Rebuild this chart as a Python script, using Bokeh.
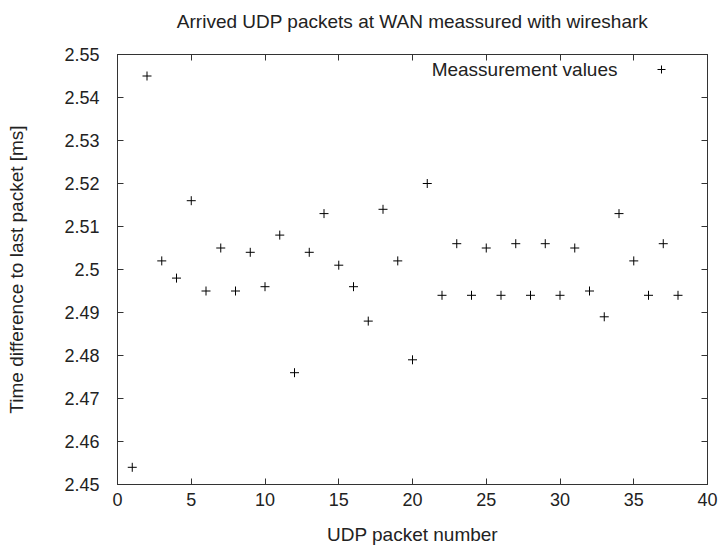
from bokeh.plotting import figure
from bokeh.models import (Range1d, LinearAxis, FixedTicker, CustomJSTickFormatter,
                          Label, Legend, LegendItem, ColumnDataSource)
from bokeh.embed import file_html
from bokeh.resources import INLINE

# ---- data ----
packet_number = list(range(1, 39))
time_diff_ms = [2.454, 2.545, 2.502, 2.498, 2.516, 2.495, 2.505, 2.495, 2.504, 2.496,
                2.508, 2.476, 2.504, 2.513, 2.501, 2.496, 2.488, 2.514, 2.502, 2.479,
                2.520, 2.494, 2.506, 2.494, 2.505, 2.494, 2.506, 2.494, 2.506, 2.494,
                2.505, 2.495, 2.489, 2.513, 2.502, 2.494, 2.506, 2.494]
x_ticks = [0, 5, 10, 15, 20, 25, 30, 35, 40]
y_ticks = [2.45, 2.46, 2.47, 2.48, 2.49, 2.50, 2.51, 2.52, 2.53, 2.54, 2.55]
title_text = "Arrived UDP packets at WAN meassured with wireshark"
x_label = "UDP packet number"
y_label = "Time difference to last packet [ms]"
series_label = "Meassurement values"

FONT = "Liberation Sans"
FS = "19px"
FS_TICK = "18px"
TXT = "#222222"

FW, FH = 590, 430

src = ColumnDataSource(dict(x=packet_number, y=time_diff_ms))

p = figure(width=719, height=548, output_backend="svg", toolbar_location=None,
           x_range=Range1d(0, 40), y_range=Range1d(2.45, 2.55),
           min_border_left=117, min_border_right=12, min_border_top=54,
           min_border_bottom=64, x_axis_location=None, y_axis_location=None)
p.grid.visible = False
p.outline_line_color = "#333333"
p.outline_line_width = 1
p.background_fill_color = "white"
p.border_fill_color = "white"

fmt = CustomJSTickFormatter(code="return String(Number(tick.toFixed(2)));")
blank = CustomJSTickFormatter(code="return '';")

def make_axis(show_labels):
    ax = LinearAxis()
    ax.major_tick_in = 6
    ax.major_tick_out = 0
    ax.minor_tick_in = 0
    ax.minor_tick_out = 0
    ax.axis_line_color = "#333333"
    ax.major_tick_line_color = "#333333"
    ax.major_label_text_font = FONT
    ax.major_label_text_font_size = FS_TICK
    ax.major_label_text_color = TXT
    ax.axis_label_text_font = FONT
    ax.axis_label_text_font_size = FS
    ax.axis_label_text_font_style = "normal"
    ax.axis_label_text_color = TXT
    if not show_labels:
        ax.formatter = blank
        ax.major_label_standoff = 0
    return ax

xb = make_axis(True)
xb.ticker = FixedTicker(ticks=x_ticks)
xb.axis_label = x_label
xb.major_label_standoff = 8
xb.axis_label_standoff = 15
p.add_layout(xb, "below")

yl = make_axis(True)
yl.ticker = FixedTicker(ticks=y_ticks)
yl.formatter = fmt
yl.axis_label = y_label
yl.major_label_standoff = 18
yl.axis_label_standoff = 34
p.add_layout(yl, "left")

# top mirror axis carries the chart title as its label
xt = make_axis(False)
xt.ticker = FixedTicker(ticks=x_ticks)
xt.axis_label = title_text
xt.axis_label_standoff = 23
p.add_layout(xt, "above")

yr = make_axis(False)
yr.ticker = FixedTicker(ticks=y_ticks)
p.add_layout(yr, "right")

r = p.scatter("x", "y", source=src, marker="cross", size=9, line_color="black",
              line_width=1)

leg = Legend(items=[LegendItem(label=" ", renderers=[r])], location=(534, 405),
             padding=0, margin=0, spacing=0, glyph_width=20, glyph_height=20,
             label_width=0, label_standoff=0, label_text_font_size="1px",
             border_line_color=None, background_fill_alpha=0)
p.add_layout(leg, "center")

p.add_layout(Label(x=500, y=FH - 15, x_units="screen", y_units="screen",
                   text=series_label, text_align="right", text_baseline="middle",
                   text_font=FONT, text_font_size=FS, text_color=TXT))

open("out.html", "w").write(file_html(p, INLINE))
